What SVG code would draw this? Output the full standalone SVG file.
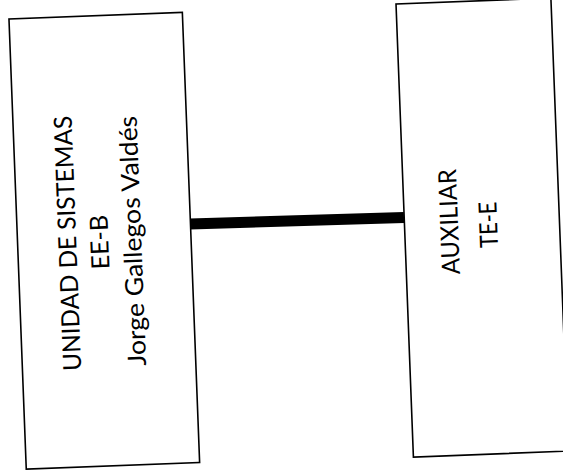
<svg xmlns="http://www.w3.org/2000/svg" width="563" height="471" viewBox="0 0 563 471">
<style>
.box{fill:#fff;stroke:#000;stroke-width:1.6}
.lbl{font-family:Lato,"Open Sans","Liberation Sans",sans-serif;font-size:25px;fill:#000;text-anchor:middle}
.conn{stroke:#000;stroke-width:11;fill:none;stroke-linecap:butt}
</style>
<rect width="563" height="471" fill="#fff"/>
<g id="connectors">
<line class="conn" x1="190" y1="224" x2="404" y2="217.5"/>
</g>
<g id="node-unidad" transform="rotate(-2.2 104.3 240.75)">
<rect class="box" x="17.55" y="15.5" width="173.5" height="450.5"/>
<text class="lbl" transform="translate(76.3 242) rotate(-90)" textLength="255" lengthAdjust="spacingAndGlyphs">UNIDAD DE SISTEMAS</text>
<text class="lbl" transform="translate(108.3 242) rotate(-90)">EE-B</text>
<text class="lbl" transform="translate(141.3 242) rotate(-90)" textLength="250" lengthAdjust="spacingAndGlyphs">Jorge Gallegos Valdés</text>
</g>
<g id="node-auxiliar" transform="rotate(-2.2 482.15 227.55)">
<rect class="box" x="404.65" y="0.85" width="155" height="453.4"/>
<text class="lbl" transform="translate(458.2 220.5) rotate(-90)" textLength="105" lengthAdjust="spacingAndGlyphs">AUXILIAR</text>
<text class="lbl" transform="translate(497.2 225) rotate(-90)" textLength="46" lengthAdjust="spacingAndGlyphs">TE-E</text>
</g>
</svg>
